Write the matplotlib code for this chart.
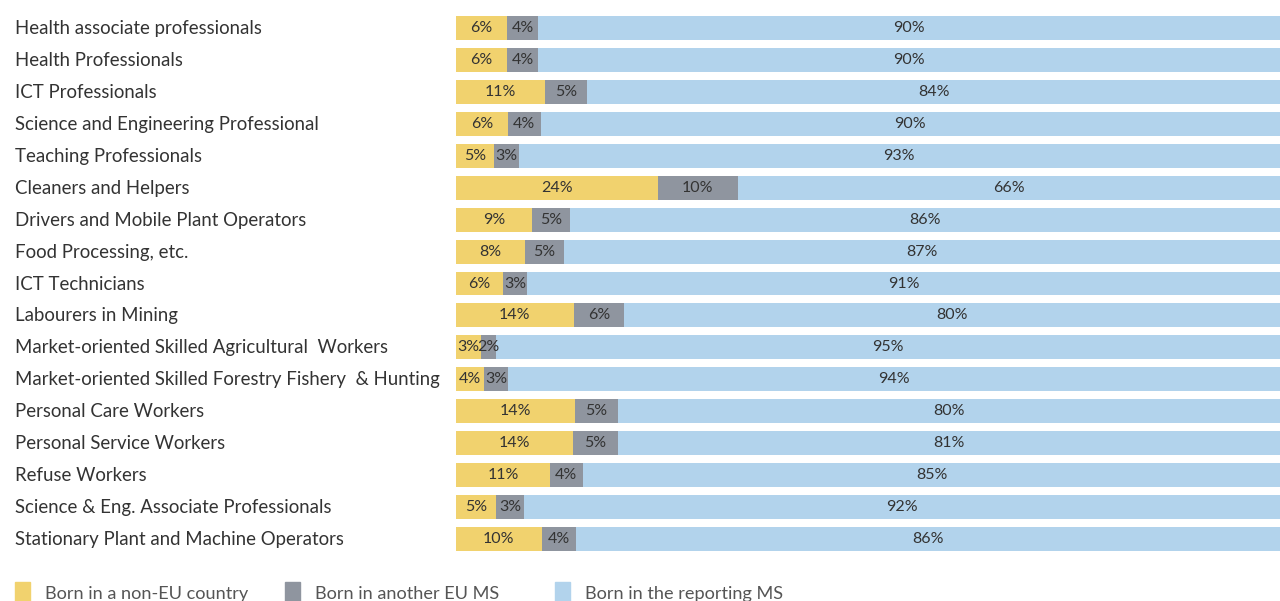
import numpy as np
import matplotlib.pyplot as plt
from matplotlib.patches import Rectangle

categories = [
    "Health associate professionals",
    "Health Professionals",
    "ICT Professionals",
    "Science and Engineering Professional",
    "Teaching Professionals",
    "Cleaners and Helpers",
    "Drivers and Mobile Plant Operators",
    "Food Processing, etc.",
    "ICT Technicians",
    "Labourers in Mining",
    "Market-oriented Skilled Agricultural  Workers",
    "Market-oriented Skilled Forestry Fishery  & Hunting",
    "Personal Care Workers",
    "Personal Service Workers",
    "Refuse Workers",
    "Science & Eng. Associate Professionals",
    "Stationary Plant and Machine Operators",
]
non_eu = [6.2, 6.2, 10.8, 6.3, 4.6, 24.5, 9.2, 8.4, 5.7, 14.3, 3.0, 3.4, 14.4, 14.2, 11.4, 4.9, 10.4]
other_eu = [3.8, 3.8, 5.1, 4.0, 3.0, 9.7, 4.6, 4.7, 2.9, 6.1, 1.8, 2.9, 5.3, 5.4, 4.0, 3.4, 4.2]
reporting = [90.0, 90.0, 84.1, 89.7, 92.4, 65.8, 86.2, 86.9, 91.4, 79.6, 95.2, 93.7, 80.3, 80.4, 84.6, 91.7, 85.4]
lab_non_eu = [6, 6, 11, 6, 5, 24, 9, 8, 6, 14, 3, 4, 14, 14, 11, 5, 10]
lab_other_eu = [4, 4, 5, 4, 3, 10, 5, 5, 3, 6, 2, 3, 5, 5, 4, 3, 4]
lab_reporting = [90, 90, 84, 90, 93, 66, 86, 87, 91, 80, 95, 94, 80, 81, 85, 92, 86]
legend_labels = ["Born in a non-EU country", "Born in another EU MS", "Born in the reporting MS"]

colors = ["#F1D26E", "#8F959F", "#B2D3EC"]
txt = "#333333"
plt.rcParams['font.family'] = ['Lato', 'DejaVu Sans']

fig = plt.figure(figsize=(12.8, 6.01), dpi=100)
ax = fig.add_axes([456 / 1280, 1 - 555 / 601, 1 - 456 / 1280, 543 / 601])

y = np.arange(len(categories))
left = np.zeros(len(categories))
for vals, labs, c in zip([non_eu, other_eu, reporting], [lab_non_eu, lab_other_eu, lab_reporting], colors):
    vals = np.array(vals)
    ax.barh(y, vals, left=left, height=0.75, color=c, edgecolor="none")
    for i in range(len(y)):
        ax.text(left[i] + vals[i] / 2, y[i], f"{labs[i]}%", ha="center", va="center",
                fontsize=11.5, color=txt)
    left = left + vals

ax.set_xlim(0, left.max())
ax.set_ylim(len(categories) - 0.5, -0.5)
ax.axis("off")

for i, cat in enumerate(categories):
    ax.text(15 / 1280, 1 - (28.5 + i * 31.94) / 601, cat, transform=fig.transFigure,
            ha="left", va="center", fontsize=13.4, color=txt)

for i, (lab, c) in enumerate(zip(legend_labels, colors)):
    x0 = (15 + i * 270) / 1280
    fig.patches.append(Rectangle((x0, 0), 15 / 1280, 19 / 601, transform=fig.transFigure,
                                 color=c, figure=fig))
    fig.text(x0 + 30 / 1280, 1 - 594 / 601, lab, ha="left", va="center",
             fontsize=13.1, color="#555555")

fig.savefig("out.png", dpi=100)
